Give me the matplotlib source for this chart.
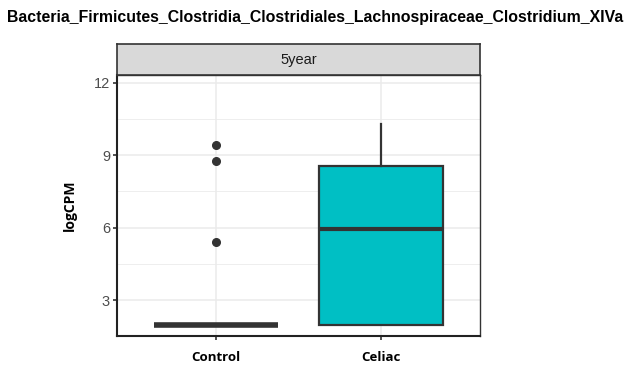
import matplotlib
matplotlib.use("Agg")
import matplotlib.pyplot as plt
from matplotlib.ticker import MultipleLocator

title = "Bacteria_Firmicutes_Clostridia_Clostridiales_Lachnospiraceae_Clostridium_XIVa"
facet = "5year"
groups = ["Control", "Celiac"]
colors = ["#F8766D", "#00BFC4"]

# five-number summaries per group
whislo = [1.97, 1.97]
q1 = [1.97, 1.97]
med = [1.97, 5.95]
q3 = [1.97, 8.55]
whishi = [1.97, 10.31]
fliers = [[9.44, 8.75, 5.40], []]

yticks = [3, 6, 9, 12]

fig = plt.figure(figsize=(6.3, 3.67), dpi=100)

ax = fig.add_axes([0.1857, 0.0845, 0.762 - 0.1857, 0.7956 - 0.0845])
strip = fig.add_axes([0.1857, 0.7956, 0.762 - 0.1857, 0.880 - 0.7956])

stats = []
for i, g in enumerate(groups):
    stats.append(dict(label=g, whislo=whislo[i], q1=q1[i], med=med[i],
                      q3=q3[i], whishi=whishi[i], fliers=fliers[i]))

bp = ax.bxp(stats, positions=[1, 2], widths=0.75, patch_artist=True,
            showcaps=False,
            boxprops=dict(edgecolor="#333333", linewidth=1.6),
            medianprops=dict(color="#333333", linewidth=3),
            whiskerprops=dict(color="#333333", linewidth=1.6),
            flierprops=dict(marker="o", markerfacecolor="#333333",
                            markeredgecolor="#333333", markersize=5.5),
            zorder=3)
for patch, c in zip(bp["boxes"], colors):
    patch.set_facecolor(c)
# the control box collapses to a single line
bp["boxes"][0].set_linewidth(3)
bp["medians"][0].set_linewidth(4)

ax.set_xlim(0.4, 2.6)
ax.set_ylim(1.51, 12.32)
ax.set_yticks(yticks)
ax.yaxis.set_minor_locator(MultipleLocator(1.5))
ax.set_xticks([1, 2])
ax.set_xticklabels(groups, fontsize=9.5, fontweight="bold", family="Open Sans")
ax.tick_params(axis="y", labelsize=10.5, labelcolor="#4D4D4D", length=3,
               width=1.2, color="#333333", pad=2)
ax.tick_params(axis="x", length=3, width=1.2, color="#333333", pad=8)
ax.tick_params(which="minor", length=0)
for lbl in ax.get_yticklabels():
    lbl.set_family("Liberation Sans")

ax.grid(True, which="major", color="#EBEBEB", linewidth=1.1, zorder=0)
ax.grid(True, which="minor", axis="y", color="#EBEBEB", linewidth=0.6, zorder=0)
ax.set_axisbelow(True)
for side in ["top", "right"]:
    ax.spines[side].set_color("#333333")
    ax.spines[side].set_linewidth(1.0)
for side in ["left", "bottom"]:
    ax.spines[side].set_color("#222222")
    ax.spines[side].set_linewidth(1.5)

ax.set_ylabel("logCPM", fontsize=10, fontweight="bold", family="Open Sans",
              labelpad=12)

strip.set_facecolor("#D9D9D9")
strip.set_xticks([])
strip.set_yticks([])
for s in strip.spines.values():
    s.set_color("#333333")
    s.set_linewidth(1.2)
strip.text(0.5, 0.48, facet, ha="center", va="center", fontsize=10.5,
           color="#1A1A1A", family="Liberation Sans", transform=strip.transAxes)

fig.text(0.5, 0.953, title, ha="center", va="center", fontsize=11.4,
         fontweight="bold", family="Liberation Sans")

fig.savefig("out.png", dpi=100)
